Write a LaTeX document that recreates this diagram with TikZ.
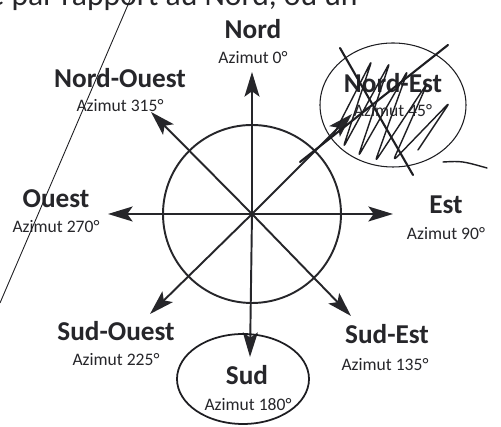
\documentclass[tikz,border=0pt]{standalone}
\usepackage{fontspec}
\setmainfont{Carlito}
\usetikzlibrary{arrows.meta}
\definecolor{ink}{RGB}{38,38,42}
\definecolor{pen}{RGB}{30,30,34}

\begin{document}
\begin{tikzpicture}[x=0.2mm, y=-0.2mm,
dir/.style={font=\bfseries\fontsize{15.5}{18}\selectfont, text=ink, inner sep=0pt, anchor=base},
azi/.style={font=\fontsize{10}{12}\selectfont, text=ink, inner sep=0pt, anchor=base},
edge/.style={-{Stealth[length=14pt, width=8.5pt, inset=3pt]}, line width=1.1pt, draw=ink},
hand/.style={draw=pen, line width=0.8pt, line cap=round, line join=round}
]
\clip (0,0) rectangle (501,427);
\fill[white] (0,0) rectangle (501,427);

% page text cut off at the top
\node[inner sep=0pt, anchor=base east, text=ink, font=\fontsize{18}{20}\selectfont] (head) at (358,6) {e par rapport au Nord, ou un};

\coordinate (c) at (252,214);
\draw[ink, line width=1.1pt] (c) circle[radius=89];

\node[dir] (nord) at (253,39) {Nord};
\node[azi] (nord0) at (253,64) {Azimut 0°};
\node[dir] (nordouest) at (120,88) {Nord-Ouest};
\node[azi] (nordouest0) at (120,112) {Azimut 315°};
\node[dir] (nordest) at (393,93) {Nord-Est};
\node[azi] (nordest0) at (393,117) {Azimut 45°};
\node[dir] (ouest) at (56,208) {Ouest};
\node[azi] (ouest0) at (56,233) {Azimut 270°};
\node[dir] (est) at (446,214) {Est};
\node[azi] (est0) at (446,240) {Azimut 90°};
\node[dir] (sudouest) at (116,341) {Sud-Ouest};
\node[azi] (sudouest0) at (116,366) {Azimut 225°};
\node[dir] (sud) at (247,385) {Sud};
\node[azi] (sud0) at (248,411) {Azimut 180°};
\node[dir] (sudest) at (387,344) {Sud-Est};
\node[azi] (sudest0) at (385,371) {Azimut 135°};

\coordinate (tN) at (252,72);
\coordinate (tS) at (250,357);
\coordinate (tW) at (108,214);
\coordinate (tE) at (393,214);
\coordinate (tNW) at (151,112);
\coordinate (tNE) at (352,114);
\coordinate (tSW) at (150,314);
\coordinate (tSE) at (351,316);

\draw[edge] (c) -- (tN);
\draw[edge] (c) -- (tS);
\draw[edge] (c) -- (tW);
\draw[edge] (c) -- (tE);
\draw[edge] (c) -- (tNW);
\draw[edge] (c) -- (tNE);
\draw[edge] (c) -- (tSW);
\draw[edge] (c) -- (tSE);

% pen marks on the scan
\draw[draw=pen, line width=0.5pt] (130,0) -- (0,303);
\draw[hand, line width=1pt] (243,379) ellipse[x radius=66, y radius=45];
\draw[hand, line width=0.6pt] (393,105) ellipse[x radius=73, y radius=62];
\draw[hand, line width=1.2pt] (340,48) -- (413,175);
\draw[hand, line width=1.2pt] (448,45) -- (300,162);
\draw[hand] (443,162) .. controls (462,161) .. (487,168);
\draw[hand, rounded corners=3pt] (333,136) -- (372,60) -- (343,148) -- (390,62)
  -- (358,157) -- (408,70) -- (375,162) -- (428,82) -- (393,161) -- (450,102) -- (418,150);
\end{tikzpicture}
\end{document}
